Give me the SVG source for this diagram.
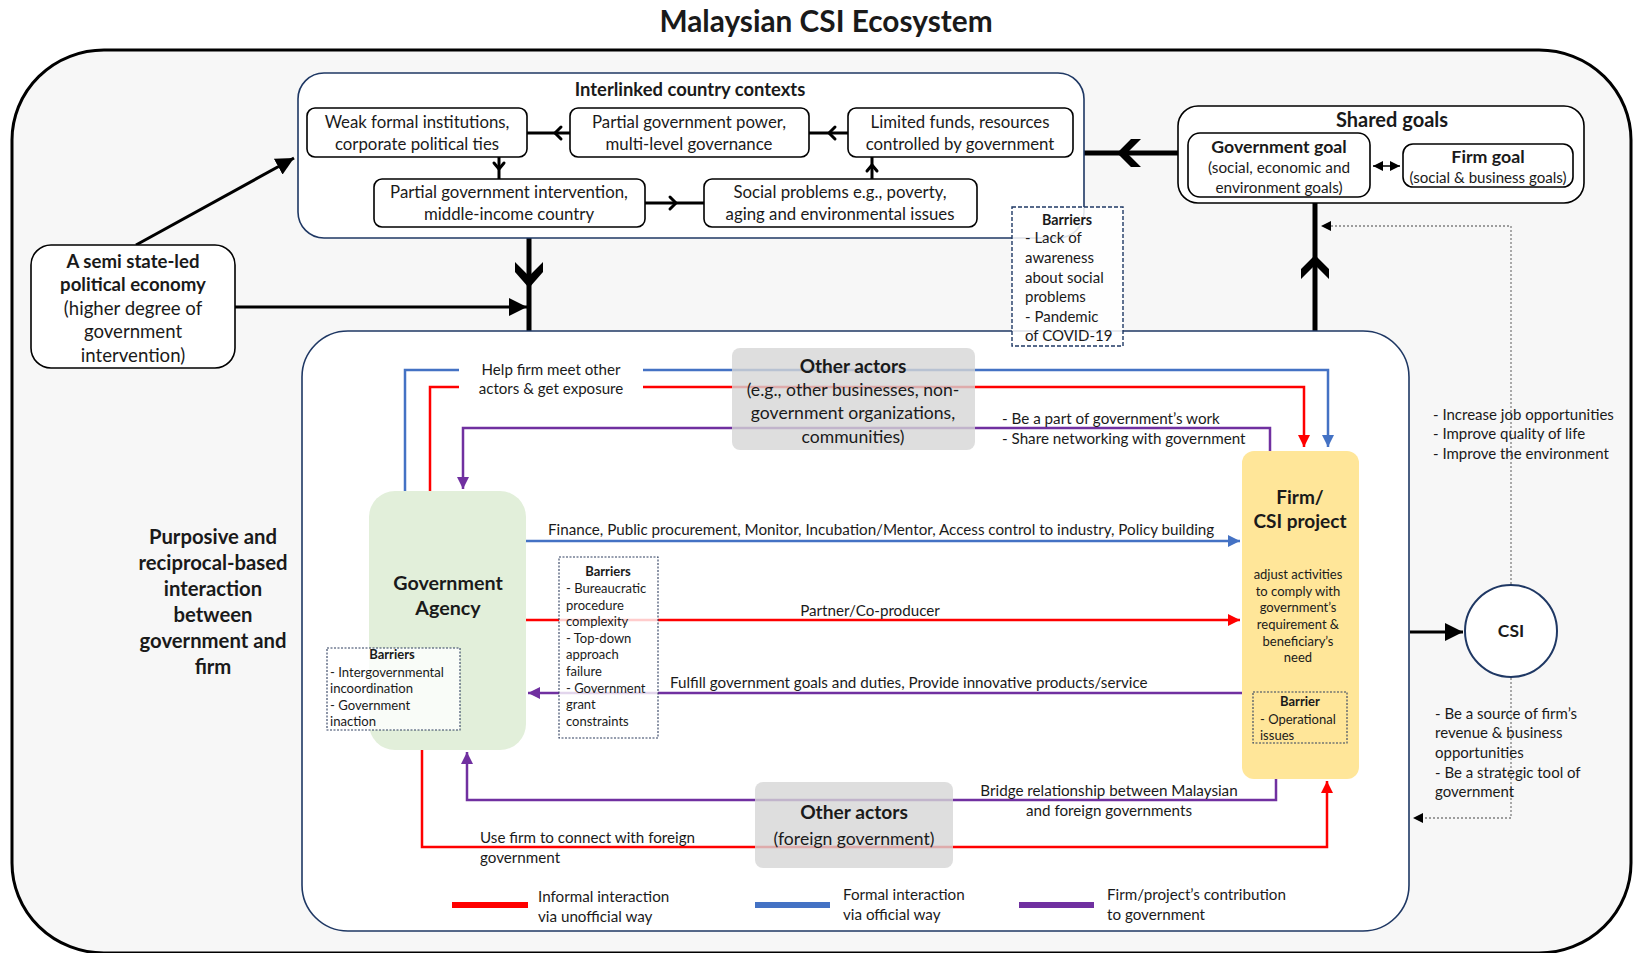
<svg xmlns="http://www.w3.org/2000/svg" width="1633" height="953" viewBox="0 0 1633 953">
  <style>
    text { font-family: Lato, "Open Sans", "Liberation Sans", sans-serif; fill: #1a1a1a; }
    .b { font-weight: bold; }
    .c { text-anchor: middle; }
    .ctx { fill: #fff; stroke: #000; stroke-width: 1.6; }
    .nav { fill: #fff; stroke: #1f3864; stroke-width: 1.6; }
    .dash { fill: #fff; fill-opacity: 0.85; stroke: #1f3864; stroke-width: 1.4; stroke-dasharray: 4 2; }
    .dot { fill: #fff; fill-opacity: 0.8; stroke: #2f3f5f; stroke-width: 1.1; stroke-dasharray: 2 1.5; }
    .thick { stroke: #000; stroke-width: 5; fill: none; }
    .blk { stroke: #000; stroke-width: 3; fill: none; }
    .red { stroke: #ff0000; stroke-width: 2.5; fill: none; }
    .blue { stroke: #4472c4; stroke-width: 2.5; fill: none; }
    .pur { stroke: #7030a0; stroke-width: 2.5; fill: none; }
    .gray { fill: #d6d6d6; fill-opacity: 0.8; }
    .chev { stroke: #000; stroke-width: 3; fill: none; stroke-linecap: round; stroke-linejoin: round; }
    .dotted { stroke: #808080; stroke-width: 1.3; fill: none; stroke-dasharray: 2 2; }
    .lbl { font-size: 15.2px; }
  </style>
  <defs>
    <marker id="aRed" viewBox="0 0 10 10" refX="10" refY="5" markerWidth="12" markerHeight="12" markerUnits="userSpaceOnUse" orient="auto">
      <path d="M0,0 L10,5 L0,10 Z" fill="#ff0000"/>
    </marker>
    <marker id="aBlue" viewBox="0 0 10 10" refX="10" refY="5" markerWidth="12" markerHeight="12" markerUnits="userSpaceOnUse" orient="auto">
      <path d="M0,0 L10,5 L0,10 Z" fill="#4472c4"/>
    </marker>
    <marker id="aPur" viewBox="0 0 10 10" refX="10" refY="5" markerWidth="12" markerHeight="12" markerUnits="userSpaceOnUse" orient="auto">
      <path d="M0,0 L10,5 L0,10 Z" fill="#7030a0"/>
    </marker>
    <marker id="aBlk" viewBox="0 0 10 10" refX="10" refY="5" markerWidth="18" markerHeight="18" markerUnits="userSpaceOnUse" orient="auto">
      <path d="M0,0 L10,5 L0,10 Z" fill="#000"/>
    </marker>
    <marker id="aSm" viewBox="0 0 10 10" refX="10" refY="5" markerWidth="10" markerHeight="10" markerUnits="userSpaceOnUse" orient="auto-start-reverse">
      <path d="M0,0 L10,5 L0,10 Z" fill="#000"/>
    </marker>
  </defs>

  <rect width="1633" height="953" fill="#fff"/>
  <text class="b c" x="826" y="32" font-size="29.8">Malaysian CSI Ecosystem</text>

  <!-- outer ecosystem frame -->
  <rect x="12" y="50" width="1619" height="903" rx="92" ry="90" fill="#f7f7f7" stroke="#000" stroke-width="3"/>

  <!-- structural connectors -->
  <g id="connectors-main">
    <path class="thick" d="M529,238 V331"/>
    <path d="M515,262 L529,276 L543,262 L543,272 L529,288 L515,272 Z" fill="#000"/>
    <path class="thick" d="M1178,153 H1084"/>
    <path d="M1141,139 L1127,153 L1141,167 L1131,167 L1117,153 L1131,139 Z" fill="#000"/>
    <path class="thick" d="M1315,331 V203"/>
    <path d="M1301,279 L1315,265 L1329,279 L1329,269 L1315,255 L1301,269 Z" fill="#000"/>
    <path class="blk" d="M136,245 L294,158" marker-end="url(#aBlk)"/>
    <path class="blk" d="M235,307 H527" marker-end="url(#aBlk)"/>
    <path class="blk" d="M1410,632 H1463" marker-end="url(#aBlk)"/>
    <path class="dotted" d="M1511,584 V226 H1324"/>
    <path class="dotted" d="M1511,678 V818 H1416"/>
    <path d="M1321,226 L1331,221 L1331,231 Z" fill="#000"/>
    <path d="M1413,818 L1423,813 L1423,823 Z" fill="#000"/>
  </g>

  <!-- country contexts -->
  <g id="contexts">
    <rect class="nav" x="298" y="73" width="786" height="165" rx="26"/>
    <text class="b c" x="690" y="96" font-size="18.4">Interlinked country contexts</text>
    <g id="ctx-links">
      <path class="blk" d="M570,133 H527"/>
      <path class="chev" d="M561,127 L555,133 L561,139"/>
      <path class="blk" d="M848,133 H809"/>
      <path class="chev" d="M835,127 L829,133 L835,139"/>
      <path class="blk" d="M499,157 V179"/>
      <path class="chev" d="M494,163 L499,169 L504,163"/>
      <path class="blk" d="M645,203 H704"/>
      <path class="chev" d="M670,197 L676,203 L670,209"/>
      <path class="blk" d="M872,179 V157"/>
      <path class="chev" d="M867,171 L872,165 L877,171"/>
    </g>
    <g id="ctx-weak">
      <rect class="ctx" x="307" y="108" width="220" height="49" rx="8"/>
      <text class="c" x="417" y="128" font-size="16.8">Weak formal institutions,</text>
      <text class="c" x="417" y="150" font-size="16.8">corporate political ties</text>
    </g>
    <g id="ctx-power">
      <rect class="ctx" x="570" y="108" width="239" height="49" rx="8"/>
      <text class="c" x="689" y="128" font-size="16.8">Partial government power,</text>
      <text class="c" x="689" y="150" font-size="16.8">multi-level governance</text>
    </g>
    <g id="ctx-funds">
      <rect class="ctx" x="848" y="108" width="225" height="49" rx="8"/>
      <text class="c" x="960" y="128" font-size="16.8">Limited funds, resources</text>
      <text class="c" x="960" y="150" font-size="16.8">controlled by government</text>
    </g>
    <g id="ctx-intervention">
      <rect class="ctx" x="374" y="179" width="271" height="48" rx="8"/>
      <text class="c" x="509" y="198" font-size="16.8">Partial government intervention,</text>
      <text class="c" x="509" y="220" font-size="16.8">middle-income country</text>
    </g>
    <g id="ctx-social">
      <rect class="ctx" x="704" y="179" width="273" height="48" rx="8"/>
      <text class="c" x="840" y="198" font-size="16.8">Social problems e.g., poverty,</text>
      <text class="c" x="840" y="220" font-size="16.8">aging and environmental issues</text>
    </g>
  </g>

  <!-- political economy -->
  <g id="semi-state">
    <rect class="ctx" x="31" y="245" width="204" height="123" rx="20"/>
    <text class="b c" x="133" y="268" font-size="18.6">A semi state-led</text>
    <text class="b c" x="133" y="291" font-size="18.6">political economy</text>
    <text class="c" x="133" y="315" font-size="18.6">(higher degree of</text>
    <text class="c" x="133" y="338" font-size="18.6">government</text>
    <text class="c" x="133" y="362" font-size="18.6">intervention)</text>
  </g>

  <!-- shared goals -->
  <g id="shared-goals">
    <rect class="ctx" x="1178" y="106" width="406" height="97" rx="20" stroke-width="2"/>
    <text class="b c" x="1392" y="127" font-size="20">Shared goals</text>
    <g id="gov-goal">
      <rect class="ctx" x="1188" y="133" width="182" height="64" rx="12"/>
      <text class="b c" x="1279" y="153" font-size="17.7">Government goal</text>
      <text class="c" x="1279" y="173" font-size="15.3">(social, economic and</text>
      <text class="c" x="1279" y="193" font-size="15.3">environment goals)</text>
    </g>
    <g id="firm-goal">
      <rect class="ctx" x="1403" y="144" width="170" height="43" rx="10"/>
      <text class="b c" x="1488" y="163" font-size="17.8">Firm goal</text>
      <text class="c" x="1488" y="183" font-size="15.1">(social &amp; business goals)</text>
    </g>
    <path d="M1373,166 H1400" stroke="#000" stroke-width="1.5" marker-start="url(#aSm)" marker-end="url(#aSm)"/>
  </g>

  <!-- interaction area -->
  <g id="interaction-frame">
    <rect class="nav" x="302" y="331" width="1107" height="600" rx="46" stroke-width="2"/>
  </g>

  <!-- context barriers -->
  <g id="barriers-context">
    <rect class="dash" x="1012" y="207" width="111" height="139"/>
    <text class="b c" x="1067" y="225" font-size="14.3">Barriers</text>
    <text x="1025" y="243" font-size="15">- Lack of</text>
    <text x="1025" y="263" font-size="15">awareness</text>
    <text x="1025" y="283" font-size="15">about social</text>
    <text x="1025" y="302" font-size="15">problems</text>
    <text x="1025" y="322" font-size="15">- Pandemic</text>
    <text x="1025" y="341" font-size="15">of COVID-19</text>
  </g>

  <g id="purposive-label">
    <text class="b c" x="213" y="544" font-size="20.3">Purposive and</text>
    <text class="b c" x="213" y="570" font-size="20.3">reciprocal-based</text>
    <text class="b c" x="213" y="596" font-size="20.3">interaction</text>
    <text class="b c" x="213" y="622" font-size="20.3">between</text>
    <text class="b c" x="213" y="648" font-size="20.3">government and</text>
    <text class="b c" x="213" y="674" font-size="20.3">firm</text>
  </g>

  <!-- interaction connectors -->
  <g id="connectors">
    <path class="blue" d="M405,491 V370 H1328 V447" marker-end="url(#aBlue)"/>
    <path class="red" d="M430,491 V387 H1304 V447" marker-end="url(#aRed)"/>
    <path class="pur" d="M1270,451 V428 H463 V489" marker-end="url(#aPur)"/>
    <path class="blue" d="M526,541 H1240" marker-end="url(#aBlue)"/>
    <path class="red" d="M526,620 H1240" marker-end="url(#aRed)"/>
    <path class="pur" d="M1242,693 H528" marker-end="url(#aPur)"/>
    <path class="pur" d="M1276,779 V800 H467 V752" marker-end="url(#aPur)"/>
    <path class="red" d="M422,750 V847 H1327 V781" marker-end="url(#aRed)"/>
    <rect x="459" y="360" width="184" height="36" fill="#fff"/>
  </g>

  <!-- connector labels -->
  <g id="labels">
    <text class="c" x="551" y="375" font-size="15.1">Help firm meet other</text>
    <text class="c" x="551" y="394" font-size="15.1">actors &amp; get exposure</text>
    <text class="lbl" x="1002" y="424">- Be a part of government’s work</text>
    <text class="lbl" x="1002" y="444">- Share networking with government</text>
    <text class="lbl" x="548" y="535">Finance, Public procurement, Monitor, Incubation/Mentor, Access control to industry, Policy building</text>
    <text class="lbl c" x="870" y="616">Partner/Co-producer</text>
    <text class="lbl" x="670" y="688">Fulfill government goals and duties, Provide innovative products/service</text>
    <text class="lbl c" x="1109" y="796">Bridge relationship between Malaysian</text>
    <text class="lbl c" x="1109" y="816">and foreign governments</text>
    <text class="lbl" x="480" y="843">Use firm to connect with foreign</text>
    <text class="lbl" x="480" y="863">government</text>
  </g>

  <!-- other actors -->
  <g id="other-actors">
    <rect class="gray" x="732" y="348" width="243" height="102" rx="8"/>
    <text class="b c" x="853" y="373" font-size="19">Other actors</text>
    <text class="c" x="853" y="396" font-size="17.6">(e.g., other businesses, non-</text>
    <text class="c" x="853" y="419" font-size="17.6">government organizations,</text>
    <text class="c" x="853" y="443" font-size="17.6">communities)</text>
  </g>
  <g id="foreign-actors">
    <rect class="gray" x="755" y="782" width="198" height="86" rx="8"/>
    <text class="b c" x="854" y="819" font-size="19.2">Other actors</text>
    <text class="c" x="854" y="845" font-size="17.6">(foreign government)</text>
  </g>

  <!-- government agency -->
  <g id="gov-agency">
    <rect x="369" y="491" width="157" height="259" rx="26" fill="#e2efda"/>
    <text class="b c" x="448" y="590" font-size="19.7">Government</text>
    <text class="b c" x="448" y="615" font-size="19.7">Agency</text>
  </g>
  <g id="barriers-gov">
    <rect class="dot" x="327" y="648" width="133" height="82" fill-opacity="1"/>
    <text class="b c" x="392" y="659" font-size="13">Barriers</text>
    <text x="330" y="677" font-size="13.1">- Intergovernmental</text>
    <text x="330" y="693" font-size="13.1">incoordination</text>
    <text x="330" y="710" font-size="13.1">- Government</text>
    <text x="330" y="726" font-size="13.1">inaction</text>
  </g>
  <g id="barriers-process">
    <rect class="dot" x="559" y="557" width="99" height="181"/>
    <text class="b c" x="608" y="576" font-size="13">Barriers</text>
    <text x="566" y="593" font-size="13">- Bureaucratic</text>
    <text x="566" y="610" font-size="13">procedure</text>
    <text x="566" y="626" font-size="13">complexity</text>
    <text x="566" y="643" font-size="13">- Top-down</text>
    <text x="566" y="659" font-size="13">approach</text>
    <text x="566" y="676" font-size="13">failure</text>
    <text x="566" y="693" font-size="13">- Government</text>
    <text x="566" y="709" font-size="13">grant</text>
    <text x="566" y="726" font-size="13">constraints</text>
  </g>

  <!-- firm / CSI project -->
  <g id="firm">
    <rect x="1242" y="451" width="117" height="328" rx="12" fill="#ffe699"/>
    <text class="b c" x="1300" y="504" font-size="19">Firm/</text>
    <text class="b c" x="1300" y="528" font-size="19">CSI project</text>
    <text class="c" x="1298" y="579" font-size="13">adjust activities</text>
    <text class="c" x="1298" y="596" font-size="13">to comply with</text>
    <text class="c" x="1298" y="612" font-size="13">government’s</text>
    <text class="c" x="1298" y="629" font-size="13">requirement &amp;</text>
    <text class="c" x="1298" y="646" font-size="13">beneficiary’s</text>
    <text class="c" x="1298" y="662" font-size="13">need</text>
    <rect x="1253" y="692" width="94" height="51" fill="none" stroke="#2f3f5f" stroke-width="1.1" stroke-dasharray="2 1.5"/>
    <text class="b c" x="1300" y="706" font-size="13">Barrier</text>
    <text x="1260" y="724" font-size="13">- Operational</text>
    <text x="1260" y="740" font-size="13">issues</text>
  </g>

  <!-- CSI -->
  <g id="csi">
    <circle cx="1511" cy="631" r="46" fill="#fff" stroke="#1f3864" stroke-width="2"/>
    <text class="b c" x="1511" y="637" font-size="17.5">CSI</text>
  </g>
  <g id="csi-outcomes">
    <text x="1433" y="420" font-size="15">- Increase job opportunities</text>
    <text x="1433" y="439" font-size="15">- Improve quality of life</text>
    <text x="1433" y="459" font-size="15">- Improve the environment</text>
    <text x="1435" y="719" font-size="15">- Be a source of firm’s</text>
    <text x="1435" y="738" font-size="15">revenue &amp; business</text>
    <text x="1435" y="758" font-size="15">opportunities</text>
    <text x="1435" y="778" font-size="15">- Be a strategic tool of</text>
    <text x="1435" y="797" font-size="15">government</text>
  </g>

  <!-- legend -->
  <g id="legend">
    <line x1="452" y1="905" x2="528" y2="905" stroke="#ff0000" stroke-width="6"/>
    <text class="lbl" x="538" y="902">Informal interaction</text>
    <text class="lbl" x="538" y="922">via unofficial way</text>
    <line x1="755" y1="905" x2="830" y2="905" stroke="#4472c4" stroke-width="6"/>
    <text class="lbl" x="843" y="900">Formal interaction</text>
    <text class="lbl" x="843" y="920">via official way</text>
    <line x1="1019" y1="905" x2="1094" y2="905" stroke="#7030a0" stroke-width="6"/>
    <text class="lbl" x="1107" y="900">Firm/project’s contribution</text>
    <text class="lbl" x="1107" y="920">to government</text>
  </g>
</svg>
